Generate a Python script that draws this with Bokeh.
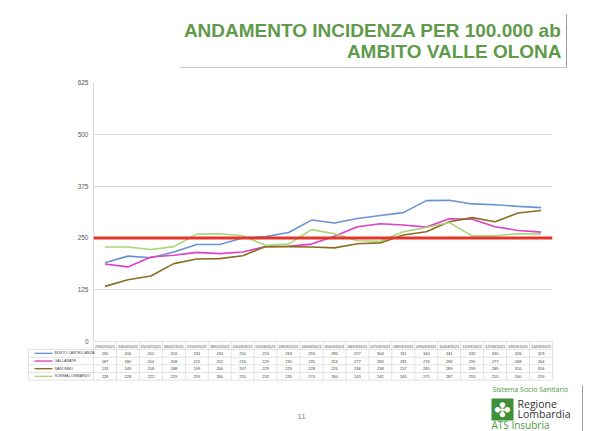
from bokeh.plotting import figure
from bokeh.models import (ColumnDataSource, Range1d, FactorRange, Span,
                          FixedTicker)
from bokeh.core.properties import value
from bokeh.embed import file_html
from bokeh.resources import INLINE

# ---------------- data ----------------
dates = ["23/02/2021", "24/02/2021", "25/02/2021", "26/02/2021", "27/02/2021",
         "28/02/2021", "01/03/2021", "02/03/2021", "03/03/2021", "04/03/2021",
         "05/03/2021", "06/03/2021", "07/03/2021", "08/03/2021", "09/03/2021",
         "10/03/2021", "11/03/2021", "12/03/2021", "13/03/2021", "14/03/2021"]
series_names = ["BUSTO CASTELLANZA", "GALLARATE", "SARONNO", "SOMMA LOMBARDO"]
busto = [190, 206, 202, 216, 234, 234, 250, 253, 263, 293, 286, 297, 304, 311, 340, 341, 332, 330, 326, 323]
gallarate = [187, 180, 204, 208, 215, 212, 216, 229, 230, 235, 254, 277, 284, 281, 276, 296, 295, 277, 268, 264]
saronno = [133, 149, 158, 188, 199, 200, 207, 229, 229, 228, 226, 236, 238, 257, 265, 289, 299, 289, 310, 316]
somma = [228, 228, 222, 229, 259, 260, 255, 232, 235, 270, 260, 243, 242, 265, 275, 287, 255, 255, 260, 259]
threshold = 250
y_ticks = [0, 125, 250, 375, 500, 625]
title_lines = ["ANDAMENTO INCIDENZA PER 100.000 ab", "AMBITO VALLE OLONA"]
page_number = "11"

series = [busto, gallarate, saronno, somma]
colors = ["#6a93d2", "#e13fc8", "#8d6b22", "#a9d677"]

# ---------------- layout constants (pixels) ----------------
W, H = 610, 431
FL, FR, FT, FB = 93, 552, 82, 341
GRID = "#d9d9d9"
TXT = "#404040"
FONT = "Liberation Sans"
colw = (FR - FL) / len(dates)

def X(px):
    # canvas pixel -> synthetic coordinate on the categorical x range
    return (px - FL) / colw

p = figure(width=W, height=H, x_range=FactorRange(factors=dates),
           y_range=Range1d(0, 625), output_backend="svg", toolbar_location=None,
           title=None, min_border_left=FL, min_border_right=W - FR,
           min_border_top=FT, min_border_bottom=H - FB)
p.background_fill_color = "white"
p.border_fill_color = "white"
p.outline_line_color = None

# pixel-placement y range for slide decorations
p.extra_y_ranges = {"py": Range1d(FB, FT)}

# axes
p.yaxis.ticker = FixedTicker(ticks=y_ticks)
p.yaxis.major_label_text_font_size = "6.5px"
p.yaxis.major_label_text_color = "#595959"
p.yaxis.major_label_text_font = FONT
p.yaxis.axis_line_color = GRID
p.yaxis.major_tick_line_color = None
p.yaxis.minor_tick_line_color = None
p.yaxis.major_tick_out = 0
p.yaxis.major_label_standoff = 5

p.xaxis.major_label_text_font_size = "4px"
p.xaxis.major_label_text_color = TXT
p.xaxis.major_label_text_font = FONT
p.xaxis.axis_line_color = None
p.xaxis.major_tick_line_color = None
p.xaxis.minor_tick_line_color = None
p.xaxis.major_tick_out = 0
p.xaxis.major_label_standoff = 2
p.xaxis.major_label_orientation = "horizontal"

p.ygrid.grid_line_color = GRID
p.xgrid.grid_line_color = None

# series lines
for vals, c in zip(series, colors):
    p.line(dates, vals, line_color=c, line_width=1.6)

p.add_layout(Span(location=threshold, dimension="width", line_color="#e5352a",
                  line_width=3))

OV = dict(y_range_name="py", level="overlay")

def seg(x0, y0, x1, y1, color="#d0d0d0", width=0.6):
    p.segment(x0=[X(a) for a in x0], y0=y0, x1=[X(a) for a in x1], y1=y1,
              line_color=color, line_width=width, **OV)

def txt(x, y, text, size, color, font=FONT, align="left", style="normal"):
    p.text(x=[X(x)], y=[y], text=[text], text_font_size=size,
           text_color=color, text_font=value(font), text_align=align,
           text_baseline="middle", text_font_style=style, **OV)

# ---------------- data table ----------------
row_top = [FB, 349, 356.7, 364.3, 372]
row_h = 7.7
TB = row_top[4] + row_h
TL = 28
# horizontal rules
hx0 = [FL] + [TL] * 5
hx1 = [FR] * 6
hy = [row_top[0]] + row_top[1:] + [TB]
seg(hx0, hy, hx1, hy)
# vertical rules
vx = [FL + k * colw for k in range(len(dates) + 1)]
seg(vx + [TL], [FB] * len(vx) + [row_top[1]], vx + [TL], [TB] * (len(vx) + 1))

tx, ty, tt = [], [], []
for i, vals in enumerate(series):
    yc = row_top[i + 1] + row_h / 2
    for d, v in zip(dates, vals):
        tx.append(d)
        ty.append(yc)
        tt.append(str(v))
p.text(x="x", y="y", text="text", source=ColumnDataSource(dict(x=tx, y=ty, text=tt)),
       text_align="center", text_baseline="middle", text_font_size="4px",
       text_color=TXT, text_font=value(FONT), **OV)

ly = [row_top[i + 1] + row_h / 2 for i in range(4)]
p.segment(x0=[X(34)] * 4, y0=ly, x1=[X(52)] * 4, y1=ly, line_color=colors,
          line_width=1.4, **OV)
p.text(x=[X(54)] * 4, y=ly, text=series_names, text_font_size="3.7px",
       text_color=TXT, text_font=value(FONT), text_baseline="middle", **OV)

# ---------------- slide title ----------------
TITLE_GREEN = "#5f9a4b"
txt(561, 30, title_lines[0], "19px", TITLE_GREEN, align="right", style="bold")
txt(561, 51, title_lines[1], "19px", TITLE_GREEN, align="right", style="bold")
seg([566], [14], [566], [67], color="#9a9a9a", width=1)
seg([180], [67], [566], [67], color="#c4c4c4", width=1)

# ---------------- footer ----------------
txt(301, 416, page_number, "8px", "#8a8a8a", align="center")
seg([582], [385], [582], [431], color="#9a9a9a", width=1)
txt(492, 389, "Sistema Socio Sanitario", "7px", "#4b9a3c", font="Open Sans")
p.quad(left=[X(491)], right=[X(513)], top=[398], bottom=[420],
       fill_color="#3f8f38", line_alpha=0, **OV)
txt(502, 409.5, "\u2724", "20px", "white", font="DejaVu Sans", align="center")
txt(517, 403, "Regione", "10.5px", "#333333", font="Open Sans")
txt(517, 413, "Lombardia", "10.5px", "#333333", font="Open Sans")
txt(491, 424, "ATS Insubria", "10px", "#4b9a3c", font="Open Sans")

open("out.html", "w").write(file_html(p, INLINE))
